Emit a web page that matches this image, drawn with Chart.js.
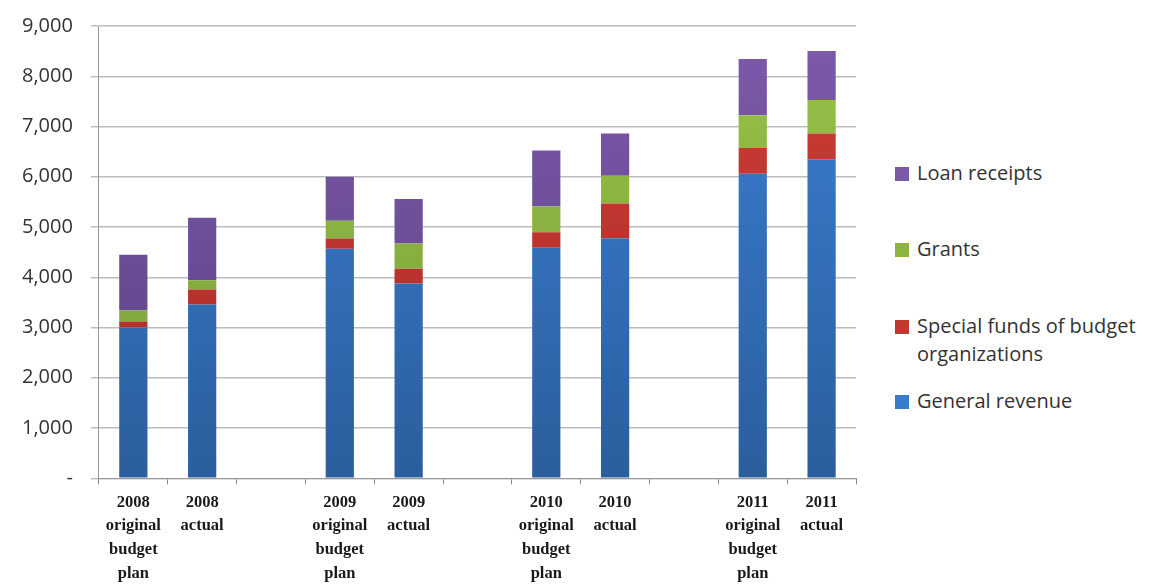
<!DOCTYPE html>
<html>
<head>
<meta charset="utf-8">
<script src="https://cdn.jsdelivr.net/npm/chart.js@4.4.1/dist/chart.umd.min.js"></script>
<style>
  body { margin: 0; background: #fff; }
  #wrap { position: relative; width: 1158px; height: 587px; overflow: hidden; }
  #chartBox { position: absolute; left: 0; top: -4px; width: 870px; height: 596px; }
  #legend { position: absolute; left: 895px; top: 0; font-family: "Open Sans", sans-serif; font-size: 20px; color: #333; }
  .item { position: absolute; left: 0; white-space: nowrap; display: flex; line-height: 28px; }
  .box { width: 14px; height: 14px; margin: 8px 8px 0 0; flex: none; }
</style>
</head>
<body>
<div id="wrap">
  <div id="chartBox"><canvas id="budgetChart"></canvas></div>
  <div id="legend"></div>
</div>
<script>
// categories (empty slots leave the gaps between years)
const categories = [
  ["2008", "original", "budget", "plan"], ["2008", "actual"], "",
  ["2009", "original", "budget", "plan"], ["2009", "actual"], "",
  ["2010", "original", "budget", "plan"], ["2010", "actual"], "",
  ["2011", "original", "budget", "plan"], ["2011", "actual"]
];

const generalRevenue = [3000, 3460, null, 4570, 3875, null, 4590, 4775, null, 6060, 6350];
const specialFunds   = [120, 295, null, 200, 295, null, 305, 695, null, 510, 510];
const grants         = [220, 185, null, 355, 500, null, 515, 550, null, 655, 670];
const loanReceipts   = [1110, 1245, null, 875, 890, null, 1115, 840, null, 1120, 975];

const yTicks = [0, 1000, 2000, 3000, 4000, 5000, 6000, 7000, 8000, 9000];

// vertical gradient over the plot area, like the office-style shading
function shade(top, bottom) {
  return (c) => {
    const area = c.chart.chartArea;
    if (!area) return top;
    const g = c.chart.ctx.createLinearGradient(0, area.top, 0, area.bottom);
    g.addColorStop(0, top);
    g.addColorStop(1, bottom);
    return g;
  };
}

const series = [
  { label: "General revenue", data: generalRevenue, color: "#3a7ccc", top: "#3b80d4", bottom: "#2b5e9c" },
  { label: "Special funds of budget\norganizations", data: specialFunds, color: "#c0392f", top: "#d23c36", bottom: "#a52b27" },
  { label: "Grants", data: grants, color: "#8cb43e", top: "#98c447", bottom: "#78993a" },
  { label: "Loan receipts", data: loanReceipts, color: "#7a5aa6", top: "#7d5bab", bottom: "#5a3f82" }
];

const ctx = document.getElementById("budgetChart").getContext("2d");
new Chart(ctx, {
  type: "bar",
  data: {
    labels: categories,
    datasets: series.map((s) => ({
      label: s.label,
      data: s.data,
      backgroundColor: shade(s.top, s.bottom),
      borderWidth: 0,
      barPercentage: 0.41,
      categoryPercentage: 1.0
    }))
  },
  options: {
    responsive: true,
    maintainAspectRatio: false,
    animation: false,
    layout: { padding: { left: 4, top: 0, right: 14, bottom: 0 } },
    plugins: { legend: { display: false }, tooltip: { enabled: false } },
    scales: {
      x: {
        stacked: true,
        grid: { offset: true, drawOnChartArea: false, color: "#888", tickLength: 6, lineWidth: 1 },
        border: { color: "#999", width: 1 },
        ticks: {
          color: "#1a1a1a",
          padding: 6,
          maxRotation: 0,
          autoSkip: false,
          font: { family: "Liberation Serif", size: 16.5, weight: "bold", lineHeight: 1.45 }
        }
      },
      y: {
        stacked: true,
        min: 0,
        max: 9000,
        afterBuildTicks: (axis) => { axis.ticks = yTicks.map((v) => ({ value: v })); },
        grid: { color: "#bdbdbd", lineWidth: 1.5, tickLength: 8 },
        border: { color: "#999", width: 1 },
        ticks: {
          color: "#333",
          padding: 18,
          font: { family: "Open Sans", size: 20 },
          callback: (v) => (v === 0 ? "-" : v.toLocaleString("en-US"))
        }
      }
    }
  }
});

// legend on the right, top to bottom in stack order
const legendTops = [387, 312, 235, 159];
const legend = document.getElementById("legend");
series.forEach((s, i) => {
  const item = document.createElement("div");
  item.className = "item";
  item.style.top = legendTops[i] + "px";
  item.innerHTML = '<span class="box" style="background:' + s.color + '"></span><span>' +
    s.label.replace("\n", "<br>") + "</span>";
  legend.appendChild(item);
});
</script>
</body>
</html>
